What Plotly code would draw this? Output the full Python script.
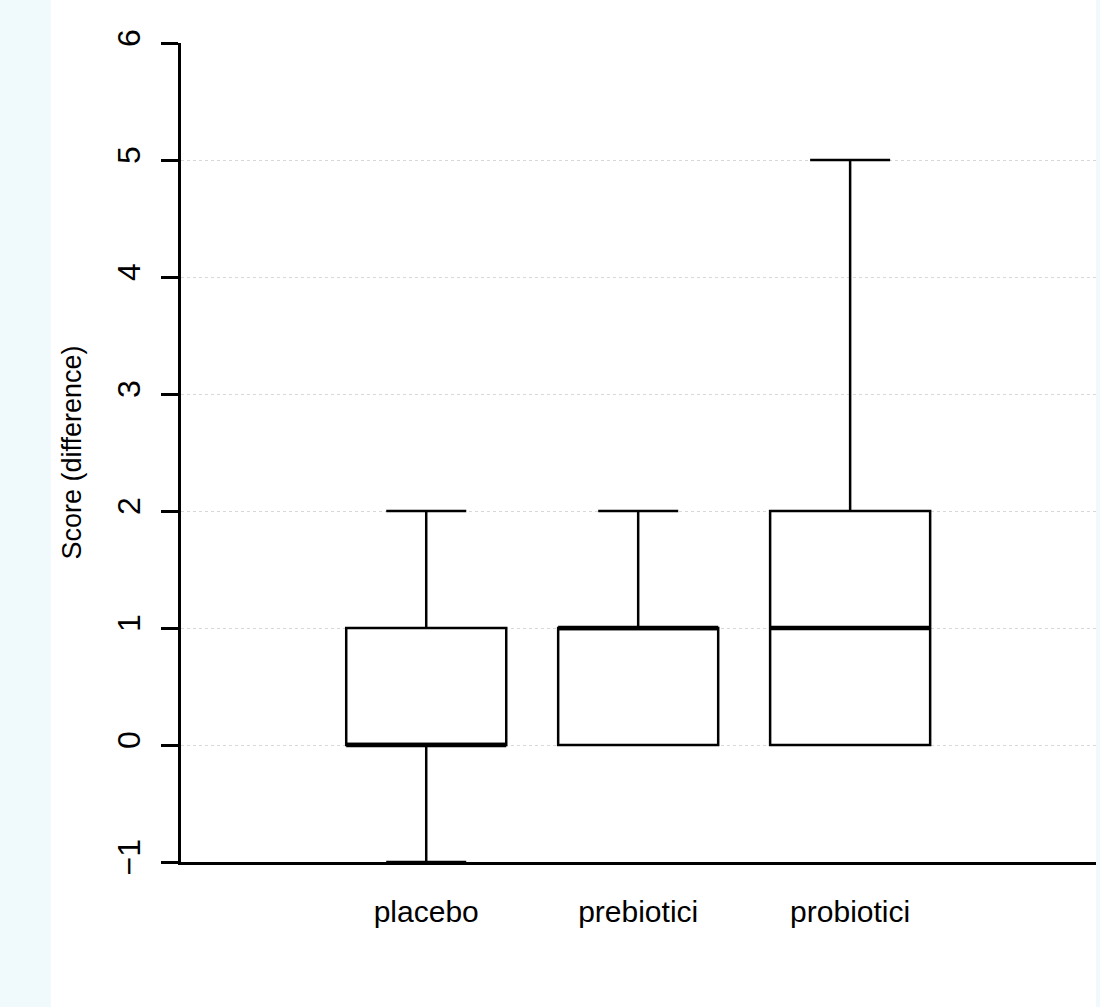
import plotly.graph_objects as go

categories = ["placebo", "prebiotici", "probiotici"]
q1 = [0, 0, 0]
median = [0, 1, 1]
q3 = [1, 1, 2]
lower = [-1, 0, 0]
upper = [2, 2, 5]
y_ticks = [-1, 0, 1, 2, 3, 4, 5, 6]
grid_vals = [0, 1, 2, 3, 4, 5]

pos = [1, 2, 3]
box_w = 0.755

fig = go.Figure()
fig.add_trace(go.Box(
    x=pos, q1=q1, median=median, q3=q3, lowerfence=lower, upperfence=upper,
    width=box_w, whiskerwidth=0.5,
    fillcolor="white", line=dict(color="black", width=2.5),
    boxpoints=False, showlegend=False, hoverinfo="skip",
))

# thicker median lines
mx, my = [], []
for p, m in zip(pos, median):
    mx += [p - box_w / 2, p + box_w / 2, None]
    my += [m, m, None]
fig.add_trace(go.Scatter(x=mx, y=my, mode="lines",
                         line=dict(color="black", width=4.5),
                         showlegend=False, hoverinfo="skip"))

# dummy trace for grid axis
fig.add_trace(go.Scatter(x=[None], y=[None], yaxis="y2", showlegend=False))

font = "Liberation Sans, Arial, sans-serif"
fig.update_layout(
    width=1100, height=1007,
    margin=dict(l=181, r=4, t=43, b=145),
    paper_bgcolor="white", plot_bgcolor="rgba(0,0,0,0)",
    font=dict(family=font, color="black"),
    xaxis=dict(range=[-0.157, 4.16], tickvals=pos, ticktext=categories,
               showline=True, linecolor="black", linewidth=3,
               showgrid=False, zeroline=False, ticks="",
               ticklabelstandoff=21, tickfont=dict(size=30, family=font)),
    yaxis=dict(range=[-1, 6], tickvals=y_ticks, ticktext=[("\u2212" if v < 0 else "") + str(abs(v)) for v in y_ticks],
               showline=True, linecolor="black", linewidth=3,
               ticks="outside", ticklen=17, tickwidth=3, tickcolor="black",
               tickangle=-90, showgrid=False, zeroline=False,
               ticklabelstandoff=8, tickfont=dict(size=32, family=font),
               title=dict(text="Score (difference)", font=dict(size=27, family=font), standoff=22)),
    yaxis2=dict(range=[-1, 6], overlaying="y", tickvals=grid_vals, showticklabels=False,
                showgrid=True, gridcolor="#d8d8d8", griddash="dot", gridwidth=1.3,
                zeroline=False, showline=False, ticks="", layer="below traces"),
    shapes=[
        dict(type="rect", xref="paper", yref="paper", x0=-181/915, x1=(51-181)/915,
             y0=-2, y1=2, fillcolor="#F0FAFD", line=dict(width=0), layer="below"),
        dict(type="rect", xref="paper", yref="paper", x0=1.0, x1=1.01,
             y0=-2, y1=2, fillcolor="#F0FAFD", line=dict(width=0), layer="below"),
    ],
)

fig.write_html("out.html", config={"displayModeBar": False},
               post_script="document.body.style.margin='0px';")
